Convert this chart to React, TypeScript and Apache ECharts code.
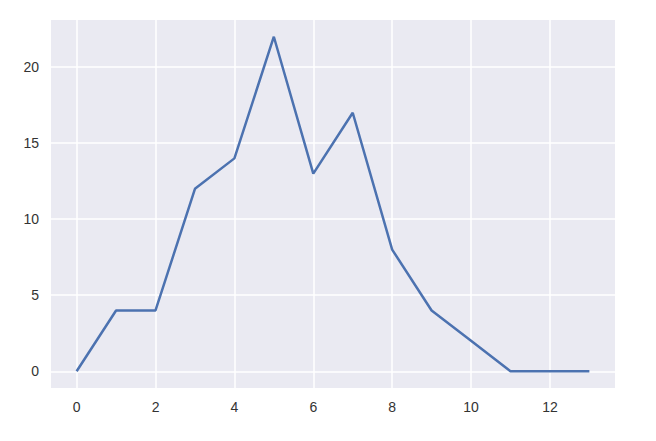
import React, { useEffect, useRef } from "react";
import * as echarts from "echarts";

const xValues = [0, 1, 2, 3, 4, 5, 6, 7, 8, 9, 10, 11, 12, 13];
const yValues = [0, 4, 4, 12, 14, 22, 13, 17, 8, 4, 2, 0, 0, 0];
const xTicks = [0, 2, 4, 6, 8, 10, 12];
const yTicks = [0, 5, 10, 15, 20];

export default function App() {
  const ref = useRef<HTMLDivElement>(null);
  useEffect(() => {
    if (!ref.current) return;
    const chart = echarts.init(ref.current, null, { renderer: "svg" });
    const labelStyle = {
      color: "#333333",
      fontFamily: "'Liberation Sans', Arial, sans-serif",
      fontSize: 14,
    };
    chart.setOption({
      animation: false,
      backgroundColor: "#ffffff",
      grid: {
        left: 51,
        top: 20,
        width: 564,
        height: 368,
        show: true,
        backgroundColor: "#EAEAF2",
        borderWidth: 0,
      },
      xAxis: {
        type: "value",
        min: -0.65,
        max: 13.65,
        axisLine: { show: false },
        axisTick: { show: false, customValues: xTicks },
        axisLabel: { ...labelStyle, customValues: xTicks, margin: 12 },
        splitLine: { show: true, lineStyle: { color: "#ffffff", width: 1.5 } },
      },
      yAxis: {
        type: "value",
        min: -1.1,
        max: 23.1,
        axisLine: { show: false },
        axisTick: { show: false, customValues: yTicks },
        axisLabel: { ...labelStyle, customValues: yTicks, margin: 12 },
        splitLine: { show: true, lineStyle: { color: "#ffffff", width: 1.5 } },
      },
      series: [
        {
          type: "line",
          data: xValues.map((x, i) => [x, yValues[i]]),
          showSymbol: false,
          lineStyle: { color: "#4C72B0", width: 2.5 },
        },
      ],
    });
    return () => chart.dispose();
  }, []);
  return (
    <div
      ref={ref}
      style={{ position: "fixed", left: 0, top: 0, width: 656, height: 441 }}
    />
  );
}
